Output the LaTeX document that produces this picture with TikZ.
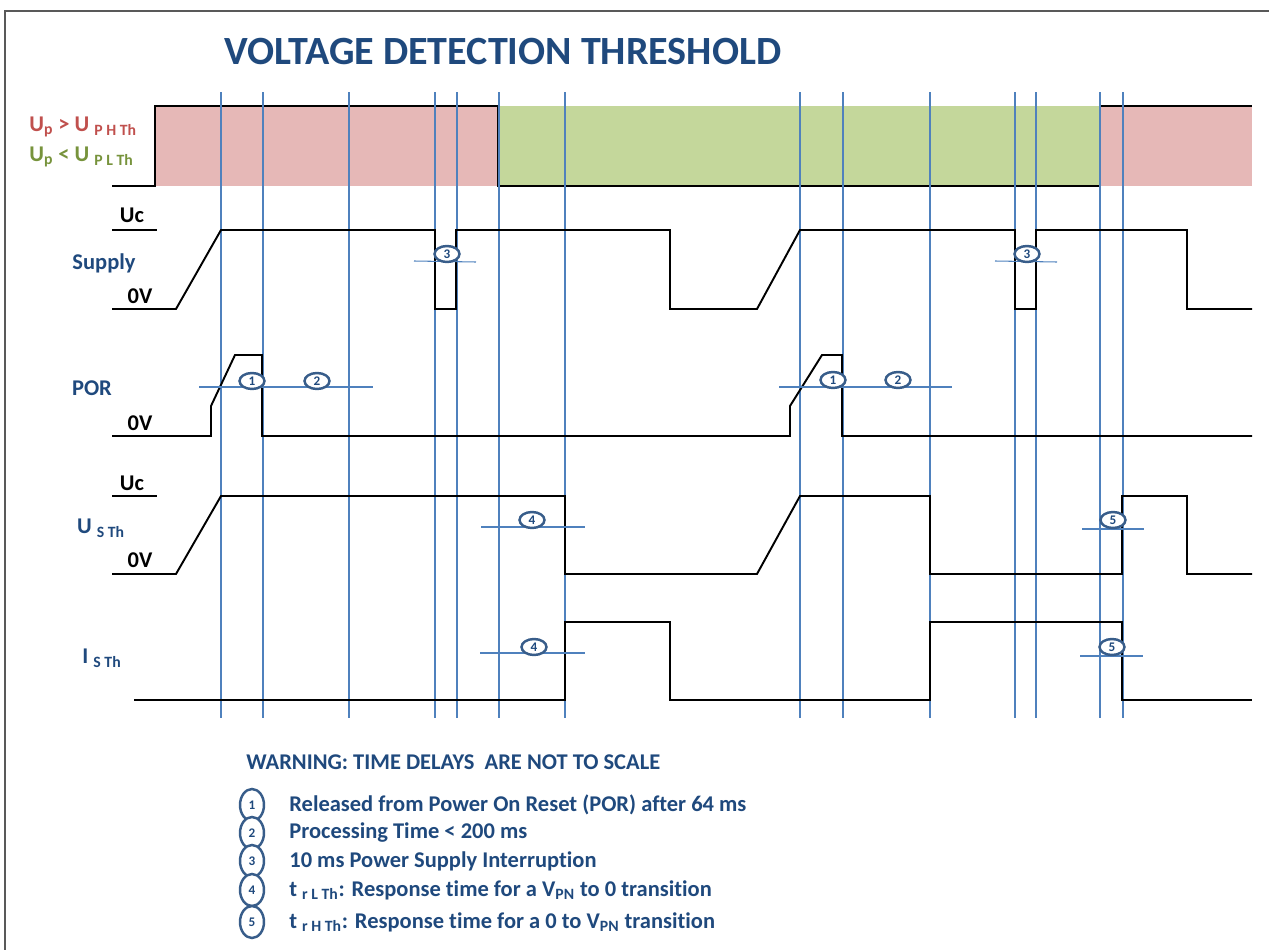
\documentclass[tikz,border=0pt]{standalone}
\usepackage{fontspec}
\setmainfont{Carlito}[Ligatures=NoCommon]
\usetikzlibrary{shapes.geometric,positioning}

\definecolor{titleblue}{RGB}{31,73,125}
\definecolor{markblue}{RGB}{56,93,138}
\definecolor{gridblue}{RGB}{79,129,189}
\definecolor{bandred}{RGB}{230,184,183}
\definecolor{bandgreen}{RGB}{196,215,155}
\definecolor{labred}{RGB}{192,80,77}
\definecolor{labgreen}{RGB}{119,147,60}

\begin{document}
\begin{tikzpicture}[
    x=0.02cm, y=-0.02cm,
    font=\bfseries\fontsize{12.8}{15}\selectfont,
    wave/.style={draw=black, line width=1.1pt, line join=miter},
    gridline/.style={draw=gridblue, line width=0.6pt},
    lvl/.style={text=black, inner sep=0pt},
    sig/.style={text=titleblue, inner sep=0pt},
    marker/.style={ellipse, draw=markblue, line width=1.4pt, fill=white, inner sep=0pt, minimum width=0.5cm, minimum height=0.32cm, font=\bfseries\fontsize{7.5}{8}\selectfont, text=titleblue},
    keymark/.style={marker, minimum width=0.48cm, minimum height=0.64cm},
    legtext/.style={anchor=west, text=titleblue, inner sep=0pt, font=\bfseries\fontsize{12.8}{15}\selectfont}
]
    \useasboundingbox (0,0) rectangle (1269,950);

    % Cadre
    \draw[gray!130, line width=0.8pt] (1269,11) -- (5,11) -- (5,950);

    % Titre
    \node[text=titleblue, font=\bfseries\fontsize{22.8}{27}\selectfont] (title) at (503,52) {VOLTAGE DETECTION THRESHOLD};

    % Bande de seuil
    \fill[bandred] (155,106) rectangle (498,186);
    \fill[bandgreen] (498,106) rectangle (1100,186);
    \fill[bandred] (1100,106) rectangle (1252,186);
    \draw[wave] (112,186) -- (155,186) -- (155,106) -- (498,106) -- (498,186) -- (1100,186) -- (1100,106) -- (1252,106);
    \node[anchor=west, text=labred, inner sep=0pt] (lab_hth) at (29,127) {U\textsubscript{p} > U \textsubscript{P H Th}};
    \node[anchor=west, text=labgreen, inner sep=0pt] (lab_lth) at (29,157) {U\textsubscript{p} < U \textsubscript{P L Th}};

    % Repères verticaux
    \foreach \xv in {221,263,349,435,457,499,565,800,843,930,1015,1036,1100,1123}
        \draw[gridline] (\xv,92) -- (\xv,718);

    % Supply
    \draw[wave] (112,230) -- (157,230);
    \node[lvl] (uc_sup) at (132,215) {Uc};
    \node[sig] (lab_sup) at (104,263) {Supply};
    \node[lvl] (zero_sup) at (140,296) {0V};
    \draw[wave] (112,309) -- (176,309) -- (221,230) -- (435,230) -- (435,309) -- (456,309) -- (456,230) -- (670,230) -- (670,309) -- (757,309) -- (800,230) -- (1015,230) -- (1015,309) -- (1036,309) -- (1036,230) -- (1187,230) -- (1187,309) -- (1252,309);

    % POR
    \node[sig] (lab_por) at (92,388) {POR};
    \node[lvl] (zero_por) at (140,423) {0V};
    \draw[wave] (112,436) -- (211,436) -- (211,406) -- (235,355) -- (262,355) -- (262,436) -- (790,436) -- (790,406) -- (822,355) -- (842,355) -- (842,436) -- (1252,436);

    % U S Th
    \draw[wave] (112,496) -- (157,496);
    \node[lvl] (uc_ust) at (132,483) {Uc};
    \node[sig] (lab_ust) at (101,528) {U \textsubscript{S Th}};
    \node[lvl] (zero_ust) at (140,560) {0V};
    \draw[wave] (112,574) -- (176,574) -- (221,496) -- (565,496) -- (565,574) -- (757,574) -- (800,496) -- (930,496) -- (930,574) -- (1122,574) -- (1122,496) -- (1187,496) -- (1187,574) -- (1252,574);

    % I S Th
    \node[sig] (lab_ist) at (102,658) {I \textsubscript{S Th}};
    \draw[wave] (134,700) -- (565,700) -- (565,622) -- (670,622) -- (670,700) -- (930,700) -- (930,622) -- (1122,622) -- (1122,700) -- (1252,700);

    % Lignes de mesure
    \draw[gridline] (199,387) -- (373,387);
    \draw[gridline] (779,387) -- (952,387);
    \draw[gridline] (414,261) -- (476,262);
    \draw[gridline] (995,261) -- (1057,262);
    \draw[gridline] (481,527) -- (585,527);
    \draw[gridline] (480,653) -- (585,653);
    \draw[gridline] (1082,529) -- (1144,529);
    \draw[gridline] (1080,656) -- (1143,656);

    % Marqueurs
    \node[marker] (m1a) at (252,381) {1};
    \node[marker] (m2a) at (317,381) {2};
    \node[marker] (m1b) at (833,380) {1};
    \node[marker] (m2b) at (898,380) {2};
    \node[marker] (m3a) at (447,254) {3};
    \node[marker] (m3b) at (1027,254) {3};
    \node[marker] (m4a) at (532,520) {4};
    \node[marker] (m4b) at (534,647) {4};
    \node[marker] (m5a) at (1113,520) {5};
    \node[marker] (m5b) at (1112,647) {5};

    % Légende
    \node[legtext] (warn) at (246,762) {WARNING: TIME DELAYS\ \ ARE NOT TO SCALE};
    \foreach \n/\yv/\txt in {
        1/805/{Released from Power On Reset (POR) after 64 ms},
        2/833/{Processing Time < 200 ms},
        3/861/{10 ms Power Supply Interruption},
        4/890/{t \textsubscript{r L Th}: Response time for a V\textsubscript{PN} to 0 transition},
        5/922/{t \textsubscript{r H Th}: Response time for a 0 to V\textsubscript{PN} transition}}
    {
        \node[keymark] (key\n) at (252,\yv) {\n};
        \node[legtext] (txt\n) at (289,\yv) {\txt};
    }

\end{tikzpicture}
\end{document}
